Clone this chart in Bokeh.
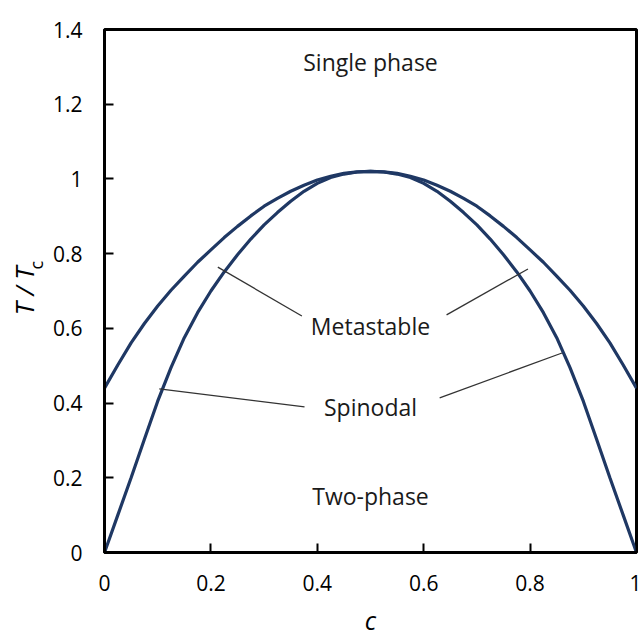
from bokeh.core.properties import value
from bokeh.embed import file_html
from bokeh.models import FixedTicker, LinearAxis, NumeralTickFormatter, Range1d
from bokeh.plotting import figure
from bokeh.resources import INLINE

# Composition c and reduced temperature T/Tc of the two phase boundaries
conc = [0, 0.025, 0.05, 0.075, 0.1, 0.125, 0.15, 0.175, 0.2, 0.225, 0.25, 0.275, 0.3,
        0.325, 0.35, 0.375, 0.4, 0.425, 0.45, 0.475, 0.5,
        0.525, 0.55, 0.575, 0.6, 0.625, 0.65, 0.675, 0.7, 0.725, 0.75, 0.775, 0.8,
        0.825, 0.85, 0.875, 0.9, 0.925, 0.95, 0.975, 1.0]
binodal = [0.44, 0.502, 0.561, 0.613, 0.66, 0.702, 0.74, 0.777, 0.81, 0.843, 0.873, 0.901, 0.927,
           0.948, 0.967, 0.983, 0.997, 1.007, 1.015, 1.019, 1.02,
           1.019, 1.015, 1.007, 0.997, 0.983, 0.967, 0.948, 0.927, 0.901, 0.873, 0.843, 0.81,
           0.777, 0.74, 0.702, 0.66, 0.613, 0.561, 0.502, 0.44]
spinodal = [0, 0.1, 0.2, 0.303, 0.405, 0.495, 0.575, 0.642, 0.70, 0.751, 0.797, 0.839, 0.877,
            0.910, 0.940, 0.967, 0.988, 1.004, 1.013, 1.0185, 1.02,
            1.0185, 1.013, 1.004, 0.988, 0.967, 0.940, 0.910, 0.877, 0.839, 0.797, 0.751, 0.70,
            0.642, 0.575, 0.495, 0.405, 0.303, 0.2, 0.1, 0]

# Region names and where they sit
region_text = ["Single phase", "Metastable", "Spinodal", "Two-phase"]
region_c = [0.5, 0.5, 0.5, 0.5]
region_T = [1.314, 0.606, 0.390, 0.150]

# Leader lines from the region names to the curves
lead_c0 = [0.213, 0.643, 0.103, 0.630]
lead_T0 = [0.764, 0.636, 0.438, 0.414]
lead_c1 = [0.371, 0.796, 0.376, 0.860]
lead_T1 = [0.633, 0.759, 0.390, 0.534]

x_ticks = [0, 0.2, 0.4, 0.6, 0.8, 1.0]
y_ticks = [0, 0.2, 0.4, 0.6, 0.8, 1.0, 1.2, 1.4]

FONT = "Open Sans"
CURVE = "#1f3864"
NBSP = "\u00a0"

p = figure(
    width=641, height=639,
    x_range=Range1d(0, 1), y_range=Range1d(0, 1.4),
    output_backend="svg", toolbar_location=None,
    min_border_left=104, min_border_right=5, min_border_top=29, min_border_bottom=86,
)
p.background_fill_color = "white"
p.border_fill_color = "white"
p.outline_line_color = "black"
p.outline_line_width = 3
p.outline_line_alpha = 1.0
p.grid.visible = False

for ax in (p.xaxis, p.yaxis):
    ax.axis_line_width = 3
    ax.axis_line_color = "black"
    ax.major_tick_in = 9
    ax.major_tick_out = 0
    ax.major_tick_line_width = 2
    ax.major_tick_line_color = "black"
    ax.minor_tick_line_color = None
    ax.major_label_text_font = FONT
    ax.major_label_text_font_size = "21px"
    ax.major_label_text_color = "black"
    ax.formatter = NumeralTickFormatter(format="0.[0]")

p.xaxis.ticker = x_ticks
p.yaxis.ticker = y_ticks
p.xaxis.major_label_standoff = 22
p.yaxis.major_label_standoff = 22

p.xaxis.axis_label = "c"
p.xaxis.axis_label_text_font = FONT
p.xaxis.axis_label_text_font_style = "italic"
p.xaxis.axis_label_text_font_size = "25px"
p.xaxis.axis_label_text_color = "black"
p.xaxis.axis_label_standoff = 9

# Vertical title T / Tc: the subscript rides on the tick axis,
# the main part on an outer, otherwise empty axis pulled in next to it
p.yaxis.axis_label = NBSP * 11 + "c"
p.yaxis.axis_label_text_font = FONT
p.yaxis.axis_label_text_font_style = "normal"
p.yaxis.axis_label_text_font_size = "18px"
p.yaxis.axis_label_text_color = "black"
p.yaxis.axis_label_standoff = 2

title_axis = LinearAxis(
    ticker=FixedTicker(ticks=[]),
    axis_line_color=None, major_tick_line_color=None, minor_tick_line_color=None,
    major_label_text_font_size="0px",
    axis_label="T / T", axis_label_text_font=FONT, axis_label_text_font_style="italic",
    axis_label_text_font_size="26px", axis_label_text_color="black",
    axis_label_standoff=-21,
)
p.add_layout(title_axis, "left")

# Phase boundary curves
p.line(conc, binodal, line_color=CURVE, line_width=3.2)
p.line(conc, spinodal, line_color=CURVE, line_width=3.2)

# Leader lines and region names
p.segment(x0=lead_c0, y0=lead_T0, x1=lead_c1, y1=lead_T1, line_color="#333333", line_width=1.3)
p.text(x=region_c, y=region_T, text=region_text, text_font=value(FONT),
       text_font_size="23px", text_color="#1a1a1a",
       text_align="center", text_baseline="alphabetic")

open("out.html", "w").write(file_html(p, INLINE))
